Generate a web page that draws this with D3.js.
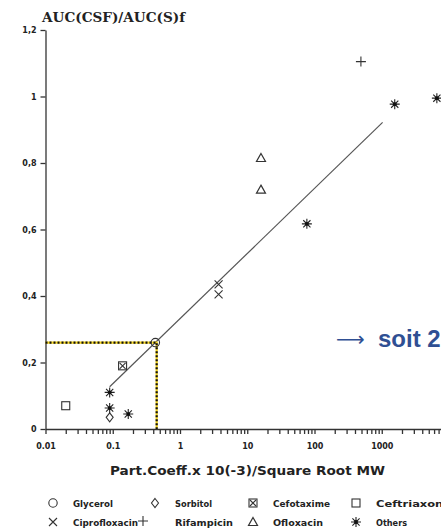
<!DOCTYPE html>
<html>
<head>
<meta charset="utf-8">
<script src="https://cdn.jsdelivr.net/npm/d3@7/dist/d3.min.js"></script>
<style>
  html, body { margin: 0; padding: 0; background: #fff; }
  svg { display: block; }
  .tick text { font-family: "DejaVu Sans", sans-serif; font-weight: bold; font-size: 8px; fill: #222; }
  .axis path, .axis line { stroke: #333; stroke-width: 1.3; }
</style>
</head>
<body>
<svg id="chart" width="441" height="528"></svg>
<script>
// Series names (legend order) and the measured points
const seriesNames = ["Glycerol", "Sorbitol", "Cefotaxime", "Ceftriaxone",
                     "Ciprofloxacin", "Rifampicin", "Ofloxacin", "Others"];
const seriesSymbols = ["circle", "diamond", "boxx", "square", "cross", "plus", "triangle", "star"];

const pointSeries = ["Glycerol", "Sorbitol", "Cefotaxime", "Ceftriaxone",
                     "Ciprofloxacin", "Ciprofloxacin", "Rifampicin",
                     "Ofloxacin", "Ofloxacin",
                     "Others", "Others", "Others", "Others", "Others", "Others"];
const pointX = [0.43, 0.09, 0.14, 0.02,
                3.75, 3.75, 490,
                16, 16,
                0.09, 0.09, 0.17, 77, 1560, 6600];
const pointY = [0.26, 0.035, 0.19, 0.07,
                0.435, 0.405, 1.105,
                0.815, 0.72,
                0.11, 0.063, 0.045, 0.617, 0.977, 0.995];

// Regression line end points
const fitX = [0.09, 1030];
const fitY = [0.127, 0.922];

// Reading guide for glycerol
const guideX = 0.45;
const guideY = 0.26;

// Axis ticks
const yTicks = [0, 0.2, 0.4, 0.6, 0.8, 1, 1.2];
const yTickLabels = ["0", "0,2", "0,4", "0,6", "0,8", "1", "1,2"];
const xDecades = [0.01, 0.1, 1, 10, 100, 1000];
const xDecadeLabels = ["0.01", "0.1", "1", "10", "100", "1000"];

const svg = d3.select("#chart");

const x = d3.scaleLog().domain([0.01, 10000]).range([45.5, 449]);
const y = d3.scaleLinear().domain([0, 1.2]).range([429, 30]);

// minor ticks: 1..9 x each decade
const xMinor = [];
for (let e = -2; e <= 3; e++) {
  for (let m = 1; m <= 9; m++) xMinor.push(m * Math.pow(10, e));
}

// X axis
const xAxis = d3.axisBottom(x)
  .tickValues(xMinor)
  .tickSize(5)
  .tickSizeOuter(0)
  .tickFormat(d => {
    const i = xDecades.findIndex(v => Math.abs(v - d) / v < 1e-9);
    return i >= 0 ? xDecadeLabels[i] : "";
  });
const gx = svg.append("g").attr("class", "axis")
  .attr("transform", `translate(0,${y(0)})`)
  .call(xAxis);
gx.selectAll(".tick line").attr("stroke-width", 1);
gx.selectAll(".tick text").attr("dy", "1.55em");

// Y axis
const yAxis = d3.axisLeft(y)
  .tickValues(yTicks)
  .tickSize(5)
  .tickSizeOuter(0)
  .tickFormat((d, i) => yTickLabels[i]);
const gy = svg.append("g").attr("class", "axis")
  .attr("transform", `translate(${x(0.01)},0)`)
  .call(yAxis);
gy.selectAll(".tick text").attr("x", -9);

// Axis titles
svg.append("text")
  .attr("x", 42).attr("y", 22)
  .attr("textLength", 143).attr("lengthAdjust", "spacingAndGlyphs")
  .style("font-family", "'DejaVu Serif', serif").style("font-weight", "bold")
  .style("font-size", "13px").attr("fill", "#222")
  .text("AUC(CSF)/AUC(S)f");

svg.append("text")
  .attr("x", 110).attr("y", 475)
  .attr("textLength", 275).attr("lengthAdjust", "spacingAndGlyphs")
  .style("font-family", "'DejaVu Sans', sans-serif").style("font-weight", "bold")
  .style("font-size", "12px").attr("fill", "#222")
  .text("Part.Coeff.x 10(-3)/Square Root MW");

// Regression line
svg.append("line")
  .attr("x1", x(fitX[0])).attr("y1", y(fitY[0]))
  .attr("x2", x(fitX[1])).attr("y2", y(fitY[1]))
  .attr("stroke", "#555").attr("stroke-width", 1.2);

// Yellow/black dotted guide to the axes
const guide = svg.append("g");
const guidePath = `M${x(0.01)},${y(guideY)}H${x(guideX)}V${y(0)}`;
guide.append("path").attr("d", guidePath)
  .attr("fill", "none").attr("stroke", "#f2d21b").attr("stroke-width", 2.2);
guide.append("path").attr("d", guidePath)
  .attr("fill", "none").attr("stroke", "#111").attr("stroke-width", 2.2)
  .attr("stroke-dasharray", "2,2");

// Marker drawing
function drawSymbol(g, type) {
  const s = "#333";
  switch (type) {
    case "circle":
      g.append("circle").attr("r", 4.2).attr("fill", "none").attr("stroke", s).attr("stroke-width", 1.1);
      break;
    case "diamond":
      g.append("path").attr("d", "M0,-4.5L3.5,0L0,4.5L-3.5,0Z")
        .attr("fill", "none").attr("stroke", s).attr("stroke-width", 1.1);
      break;
    case "square":
      g.append("rect").attr("x", -4).attr("y", -4).attr("width", 8).attr("height", 8)
        .attr("fill", "none").attr("stroke", s).attr("stroke-width", 1.1);
      break;
    case "boxx":
      g.append("rect").attr("x", -4).attr("y", -4).attr("width", 8).attr("height", 8)
        .attr("fill", "none").attr("stroke", s).attr("stroke-width", 1.1);
      g.append("path").attr("d", "M-3,-3L3,3M-3,3L3,-3")
        .attr("stroke", s).attr("stroke-width", 1.1);
      break;
    case "cross":
      g.append("path").attr("d", "M-4,-4L4,4M-4,4L4,-4")
        .attr("stroke", s).attr("stroke-width", 1.1);
      break;
    case "plus":
      g.append("path").attr("d", "M-5,0H5M0,-5V5")
        .attr("stroke", s).attr("stroke-width", 1.1);
      break;
    case "triangle":
      g.append("path").attr("d", "M0,-4.5L4.5,3.5H-4.5Z")
        .attr("fill", "none").attr("stroke", s).attr("stroke-width", 1.2);
      break;
    case "star":
      g.append("path").attr("d", "M-5,0H5M0,-5V5M-3.6,-3.6L3.6,3.6M-3.6,3.6L3.6,-3.6")
        .attr("stroke", "#222").attr("stroke-width", 1.1);
      g.append("circle").attr("r", 1.9).attr("fill", "#111");
      break;
  }
}
const symbolOf = name => seriesSymbols[seriesNames.indexOf(name)];

// Data points
pointSeries.forEach((name, i) => {
  const g = svg.append("g")
    .attr("transform", `translate(${x(pointX[i])},${y(pointY[i])})`);
  drawSymbol(g, symbolOf(name));
});

// Legend: two rows of four
const legendCols = [53, 155, 253, 356];
const legendRows = [503, 522];
const legendTextLen = [40, 37, 57, 75, 65, 58, 50, 31];
seriesNames.forEach((name, i) => {
  let cx = legendCols[i % 4], cy = legendRows[Math.floor(i / 4)];
  const tx = cx + 20;
  // the Rifampicin key sits right after the Ciprofloxacin label
  if (name === "Rifampicin") { cx = 143; cy -= 1; }
  const g = svg.append("g").attr("transform", `translate(${cx},${cy})`);
  drawSymbol(g, seriesSymbols[i]);
  svg.append("text")
    .attr("x", tx).attr("y", legendRows[Math.floor(i / 4)] + 3.5)
    .attr("textLength", legendTextLen[i]).attr("lengthAdjust", "spacingAndGlyphs")
    .style("font-family", "'DejaVu Sans', sans-serif").style("font-weight", "bold")
    .style("font-size", "9px").attr("fill", "#222")
    .text(name);
});

// Annotation
const noteColor = "#2f4f93";
svg.append("text")
  .attr("x", 336).attr("y", 346)
  .style("font-family", "'DejaVu Sans', sans-serif")
  .style("font-size", "20px").attr("fill", noteColor)
  .text("⟶");
svg.append("text")
  .attr("x", 378).attr("y", 347)
  .style("font-family", "'Liberation Sans', Arial, sans-serif").style("font-weight", "bold")
  .style("font-size", "24px").attr("fill", noteColor)
  .text("soit 2");
</script>
</body>
</html>
